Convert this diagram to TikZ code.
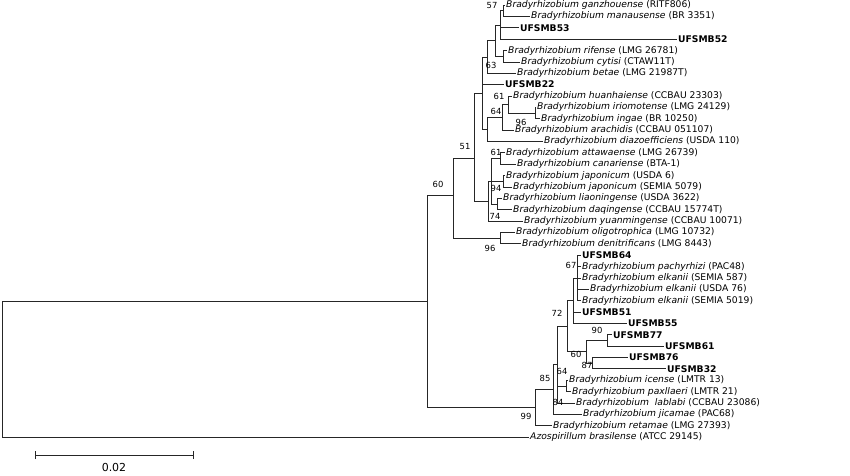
\documentclass[tikz,border=0pt]{standalone}
\usepackage{fontspec}
\setmainfont{DejaVu Sans}
\begin{document}
\begin{tikzpicture}[x=1pt,y=-1pt,
  tipx/.style={anchor=west,inner xsep=1.5pt,inner ysep=0pt,font=\fontsize{9.2}{10}\selectfont},
  bs/.style={font=\fontsize{8.4}{9}\selectfont,inner sep=0pt},
  br/.style={line width=0.7pt,draw=black!85}]
\useasboundingbox (0,0) rectangle (850,475);
\newcommand\tipn[4]{\node[tipx] (#1) at (#2-1.5,#3) {#4};}
\newcommand\bb[1]{\textbf{#1}}
\newcommand\bi[1]{\textit{Bradyrhizobium #1}}
% tips
\tipn{t0}{506}{5}{\bi{ganzhouense} (RITF806)}
\tipn{t1}{531}{16.4}{\bi{manausense} (BR 3351)}
\tipn{t2}{520}{27.7}{\bb{UFSMB53}}
\tipn{t3}{678}{39.1}{\bb{UFSMB52}}
\tipn{t4}{508}{50.5}{\bi{rifense} (LMG 26781)}
\tipn{t5}{521}{61.9}{\bi{cytisi} (CTAW11T)}
\tipn{t6}{517}{73.2}{\bi{betae} (LMG 21987T)}
\tipn{t7}{505}{84.6}{\bb{UFSMB22}}
\tipn{t8}{513}{96.0}{\bi{huanhaiense} (CCBAU 23303)}
\tipn{t9}{537}{107.3}{\bi{iriomotense} (LMG 24129)}
\tipn{t10}{541}{118.7}{\bi{ingae} (BR 10250)}
\tipn{t11}{515}{130.1}{\bi{arachidis} (CCBAU 051107)}
\tipn{t12}{544}{141.4}{\bi{diazoefficiens} (USDA 110)}
\tipn{t13}{506}{152.8}{\bi{attawaense} (LMG 26739)}
\tipn{t14}{517}{164.2}{\bi{canariense} (BTA-1)}
\tipn{t15}{506}{175.6}{\bi{japonicum} (USDA 6)}
\tipn{t16}{513}{186.9}{\bi{japonicum} (SEMIA 5079)}
\tipn{t17}{503}{198.3}{\bi{liaoningense} (USDA 3622)}
\tipn{t18}{513}{209.7}{\bi{daqingense} (CCBAU 15774T)}
\tipn{t19}{524}{221.0}{\bi{yuanmingense} (CCBAU 10071)}
\tipn{t20}{516}{232.4}{\bi{oligotrophica} (LMG 10732)}
\tipn{t21}{522}{243.8}{\bi{denitrificans} (LMG 8443)}
\tipn{t22}{582}{255.1}{\bb{UFSMB64}}
\tipn{t23}{582}{266.5}{\bi{pachyrhizi} (PAC48)}
\tipn{t24}{582}{277.9}{\bi{elkanii} (SEMIA 587)}
\tipn{t25}{590}{289.3}{\bi{elkanii} (USDA 76)}
\tipn{t26}{582}{300.6}{\bi{elkanii} (SEMIA 5019)}
\tipn{t27}{582}{312.0}{\bb{UFSMB51}}
\tipn{t28}{628}{323.4}{\bb{UFSMB55}}
\tipn{t29}{613}{334.7}{\bb{UFSMB77}}
\tipn{t30}{665}{346.1}{\bb{UFSMB61}}
\tipn{t31}{629}{357.5}{\bb{UFSMB76}}
\tipn{t32}{667}{368.8}{\bb{UFSMB32}}
\tipn{t33}{569}{380.2}{\bi{icense} (LMTR 13)}
\tipn{t34}{572}{391.6}{\bi{paxllaeri} (LMTR 21)}
\tipn{t35}{576}{403.0}{\textit{Bradyrhizobium\ \ lablabi} (CCBAU 23086)}
\tipn{t36}{583}{414.3}{\bi{jicamae} (PAC68)}
\tipn{t37}{553}{425.7}{\bi{retamae} (LMG 27393)}
\tipn{t38}{530}{437.1}{\textit{Azospirillum brasilense} (ATCC 29145)}
% internal nodes
\coordinate (P) at (503,10.7);
\coordinate (N1) at (500,24.9);
\coordinate (Q) at (503,56.2);
\coordinate (N2) at (495,40.5);
\coordinate (N3) at (487,56.9);
\coordinate (T) at (535,113);
\coordinate (S) at (508,104.5);
\coordinate (R) at (502,117.3);
\coordinate (L) at (487,129);
\coordinate (N4) at (482,93);
\coordinate (G) at (500,158.5);
\coordinate (H) at (503,181.3);
\coordinate (I) at (497,204);
\coordinate (F) at (491,181.3);
\coordinate (E) at (488,201);
\coordinate (D) at (474,158);
\coordinate (O) at (500,238.1);
\coordinate (C) at (453,195);
\coordinate (CC) at (577,277.9);
\coordinate (AA) at (573,300.6);
\coordinate (DD) at (607,340.4);
\coordinate (EE) at (592,363.2);
\coordinate (BB) at (586,351.8);
\coordinate (X) at (567,326);
\coordinate (Z) at (566,386);
\coordinate (Y) at (557,364);
\coordinate (W) at (553,389);
\coordinate (V) at (535,407);
\coordinate (B) at (427,301);
\coordinate (A) at (2,301);
% branches
\begin{scope}[br]
\foreach \p/\c in {P/t0,P/t1,N1/P,N1/t2,N1/t3,Q/t4,Q/t5,N2/N1,N2/Q,N3/N2,N3/t6,
  T/t9,T/t10,S/t8,S/T,R/S,R/t11,L/R,L/t12,N4/N3,N4/t7,N4/L,
  G/t13,G/t14,H/t15,H/t16,I/t17,I/t18,F/G,F/H,F/I,E/F,E/t19,D/N4,D/E,
  O/t20,O/t21,C/D,C/O,
  CC/t22,CC/t23,CC/t24,CC/t25,CC/t26,AA/CC,AA/t27,AA/t28,
  DD/t29,DD/t30,EE/t31,EE/t32,BB/DD,BB/EE,X/AA,X/BB,Z/t33,Z/t34,
  Y/X,Y/Z,Y/t35,W/Y,W/t36,V/W,V/t37,B/C,B/V,A/B,A/t38}
  \draw (\p) |- (\c);
\end{scope}
% bootstrap
\node[bs] (b57) at (492,5) {57};
\node[bs] (b63) at (491,65) {63};
\node[bs] (b61a) at (499,96) {61};
\node[bs] (b64a) at (496,111) {64};
\node[bs] (b96a) at (521,122) {96};
\node[bs] (b51) at (465,146) {51};
\node[bs] (b61b) at (496,152) {61};
\node[bs] (b94) at (496,188) {94};
\node[bs] (b74) at (495,216) {74};
\node[bs] (b60a) at (438,184) {60};
\node[bs] (b96b) at (490,248) {96};
\node[bs] (b67) at (571,265) {67};
\node[bs] (b72) at (557,313) {72};
\node[bs] (b90) at (597,330) {90};
\node[bs] (b60b) at (576,354) {60};
\node[bs] (b87) at (587,365) {87};
\node[bs] (b64b) at (562,371) {64};
\node[bs] (b85) at (545,378) {85};
\node[bs] (b84) at (558,402) {84};
\node[bs] (b99) at (526,416) {99};
% scale bar
\coordinate (s1) at (35,455);
\coordinate (s2) at (193,455);
\draw[br] (s1) -- (s2);
\draw[br] ([yshift=-4pt]s1) -- ([yshift=4pt]s1);
\draw[br] ([yshift=-4pt]s2) -- ([yshift=4pt]s2);
\node[font=\fontsize{11}{13}\selectfont] (sl) at (114,467) {0.02};
\end{tikzpicture}
\end{document}
